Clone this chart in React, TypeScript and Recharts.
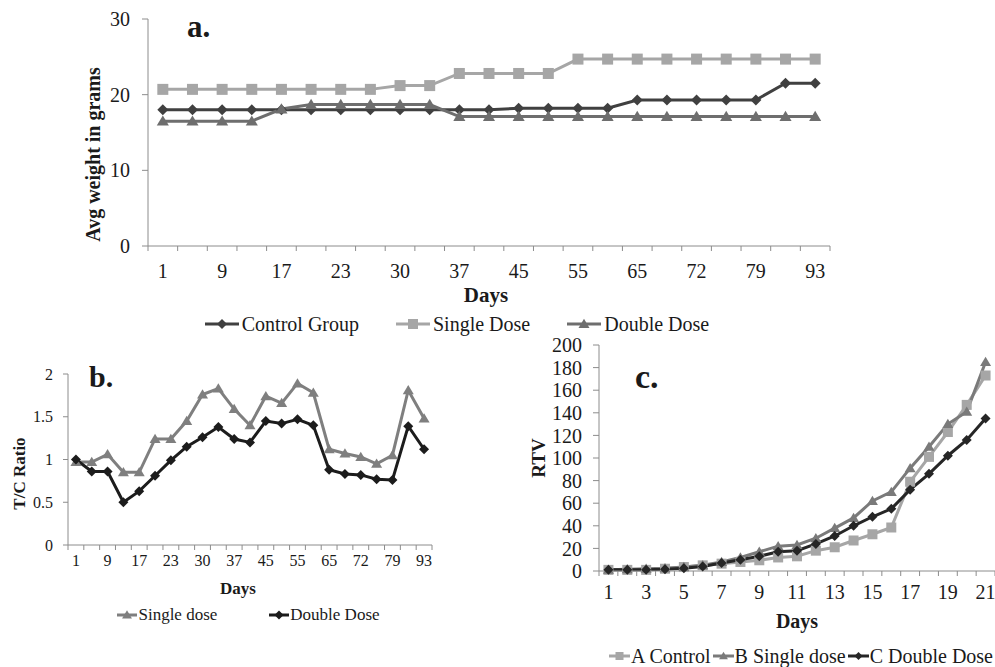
import React from "react";
import { LineChart, Line, XAxis, YAxis, Legend, Label } from "recharts";

const FONT = "'Liberation Serif', 'Times New Roman', serif";
const AXIS = "#8c8c8c";
const INK = "#1a1a1a";

// a. average body weight
const weightDays = ["1", "5", "9", "13", "17", "20", "23", "27", "30", "34", "37", "41", "45", "50", "55", "60", "65", "69", "72", "76", "79", "86", "93"];
const controlWeight = [18, 18, 18, 18, 18, 18, 18, 18, 18, 18, 18, 18, 18.2, 18.2, 18.2, 18.2, 19.3, 19.3, 19.3, 19.3, 19.3, 21.5, 21.5];
const singleWeight = [20.7, 20.7, 20.7, 20.7, 20.7, 20.7, 20.7, 20.7, 21.2, 21.2, 22.8, 22.8, 22.8, 22.8, 24.7, 24.7, 24.7, 24.7, 24.7, 24.7, 24.7, 24.7, 24.7];
const doubleWeight = [16.5, 16.5, 16.5, 16.5, 18.1, 18.7, 18.7, 18.7, 18.7, 18.7, 17.1, 17.1, 17.1, 17.1, 17.1, 17.1, 17.1, 17.1, 17.1, 17.1, 17.1, 17.1, 17.1];
const weightTicks = [0, 10, 20, 30];

// b. T/C ratio
const ratioDays = weightDays;
const singleRatio = [0.97, 0.97, 1.06, 0.85, 0.85, 1.24, 1.24, 1.45, 1.76, 1.83, 1.59, 1.4, 1.74, 1.66, 1.89, 1.78, 1.12, 1.07, 1.03, 0.95, 1.05, 1.81, 1.48];
const doubleRatio = [1.0, 0.86, 0.86, 0.5, 0.63, 0.81, 0.99, 1.15, 1.26, 1.38, 1.24, 1.2, 1.45, 1.42, 1.47, 1.4, 0.88, 0.83, 0.82, 0.77, 0.76, 1.39, 1.12];
const ratioTicks = [0, 0.5, 1, 1.5, 2];

// c. relative tumour volume
const rtvDays = ["1", "2", "3", "4", "5", "6", "7", "8", "9", "10", "11", "12", "13", "14", "15", "16", "17", "18", "19", "20", "21"];
const controlRtv = [1, 1, 1, 2, 3.5, 5, 6.5, 8, 9.5, 12, 13, 18, 21, 27, 32.5, 38.5, 79, 101, 123, 147, 173];
const singleRtv = [1, 1.5, 2, 2.5, 3.5, 5, 8, 12, 17, 22, 23, 29, 38, 47, 62, 70, 91, 110, 130, 141, 185];
const doubleRtv = [1, 1, 1, 1.5, 2.5, 4, 7, 10, 13, 17, 18, 24, 31, 40, 48, 55, 72, 86, 102, 116, 135];
const rtvTicks = [0, 20, 40, 60, 80, 100, 120, 140, 160, 180, 200];

type Shape = "diamond" | "square" | "triangle";
type Series = { key: string; name: string; color: string; shape: Shape; values: number[] };

const weightSeries: Series[] = [
  { key: "control", name: "Control Group", color: "#404040", shape: "diamond", values: controlWeight },
  { key: "single", name: "Single Dose", color: "#a6a6a6", shape: "square", values: singleWeight },
  { key: "double", name: "Double Dose", color: "#6e6e6e", shape: "triangle", values: doubleWeight },
];
const ratioSeries: Series[] = [
  { key: "single", name: "Single dose", color: "#7f7f7f", shape: "triangle", values: singleRatio },
  { key: "double", name: "Double Dose", color: "#1c1c1c", shape: "diamond", values: doubleRatio },
];
const rtvSeries: Series[] = [
  { key: "a", name: "A Control", color: "#a6a6a6", shape: "square", values: controlRtv },
  { key: "b", name: "B Single dose", color: "#7a7a7a", shape: "triangle", values: singleRtv },
  { key: "c", name: "C Double Dose", color: "#262626", shape: "diamond", values: doubleRtv },
];

function toRows(days: string[], series: Series[]) {
  return days.map((day, i) => {
    const row: Record<string, any> = { day };
    series.forEach((s) => (row[s.key] = s.values[i]));
    return row;
  });
}

function Marker({ shape, cx, cy, r, fill }: { shape: Shape; cx: number; cy: number; r: number; fill: string }) {
  if (shape === "square") return <rect x={cx - r} y={cy - r} width={2 * r} height={2 * r} fill={fill} />;
  if (shape === "triangle")
    return <polygon points={`${cx},${cy - r * 1.05} ${cx + r * 1.1},${cy + r * 0.8} ${cx - r * 1.1},${cy + r * 0.8}`} fill={fill} />;
  return <polygon points={`${cx},${cy - r} ${cx + r},${cy} ${cx},${cy + r} ${cx - r},${cy}`} fill={fill} />;
}

function dotFor(s: Series, r: number) {
  return (p: any) => <Marker key={`${s.key}-${p.index}`} shape={s.shape} cx={p.cx} cy={p.cy} r={r} fill={s.color} />;
}

// Excel-like category tick: tick marks between categories, label on every other one
function CategoryTick(props: any) {
  const { x, y, payload, index, step, every, last, fontSize, gap } = props;
  const axisY = y - gap;
  return (
    <g>
      <line x1={x - step / 2} x2={x - step / 2} y1={axisY} y2={axisY + 5} stroke={AXIS} />
      {index === last && <line x1={x + step / 2} x2={x + step / 2} y1={axisY} y2={axisY + 5} stroke={AXIS} />}
      {index % every === 0 && (
        <text x={x} y={y} dy="0.71em" textAnchor="middle" fontFamily={FONT} fontSize={fontSize} fill={INK}>
          {payload.value}
        </text>
      )}
    </g>
  );
}

function LegendRow({ items, fontSize, sample, gap, textGap, r, justify, pad }: any) {
  return (
    <div
      style={{
        display: "flex",
        justifyContent: justify,
        alignItems: "center",
        height: 22,
        paddingRight: pad || 0,
        fontFamily: FONT,
        fontSize,
        color: INK,
        whiteSpace: "nowrap",
      }}
    >
      {items.map((s: Series, i: number) => (
        <div key={s.key} style={{ display: "flex", alignItems: "center", marginLeft: i ? gap : 0 }}>
          <svg width={sample} height={16}>
            <line x1={0} x2={sample} y1={8} y2={8} stroke={s.color} strokeWidth={3} />
            <Marker shape={s.shape} cx={sample / 2} cy={8} r={r} fill={s.color} />
          </svg>
          <span style={{ marginLeft: textGap }}>{s.name}</span>
        </div>
      ))}
    </div>
  );
}

const yTickStyle = { fontFamily: FONT, fill: INK };
const boldLabel = { fontFamily: FONT, fontWeight: "bold", fill: INK, textAnchor: "middle" } as any;

export default function App() {
  const stepA = 682 / weightDays.length;
  const stepB = 364 / ratioDays.length;
  const stepC = 396 / rtvDays.length;

  return (
    <div style={{ position: "absolute", left: 0, top: 0, width: 995, height: 667, background: "#fff", overflow: "hidden" }}>
      {/* a. */}
      <div style={{ position: "absolute", left: 0, top: 0 }}>
        <LineChart width={995} height={340} data={toRows(weightDays, weightSeries)} margin={{ top: 19, right: 165, bottom: 5, left: 78 }}>
          <XAxis
            dataKey="day"
            height={67}
            interval={0}
            padding={{ left: stepA / 2, right: stepA / 2 }}
            axisLine={{ stroke: AXIS }}
            tickLine={false}
            tickSize={0}
            tickMargin={18}
            tick={<CategoryTick step={stepA} every={2} last={weightDays.length - 1} fontSize={20} gap={18} />}
          >
            <Label value="Days" position="insideBottom" offset={11} dx={-3} style={{ ...boldLabel, fontSize: 21 }} />
          </XAxis>
          <YAxis
            width={70}
            domain={[0, 30]}
            ticks={weightTicks}
            axisLine={{ stroke: AXIS }}
            tickLine={{ stroke: AXIS }}
            tickSize={6}
            tickMargin={12}
            tick={{ ...yTickStyle, fontSize: 20 }}
          >
            <Label value="Avg weight in grams" angle={-90} position="center" dx={-20} dy={22} style={{ ...boldLabel, fontSize: 20 }} />
          </YAxis>
          {weightSeries.map((s) => (
            <Line key={s.key} dataKey={s.key} name={s.name} stroke={s.color} strokeWidth={3} dot={dotFor(s, 5.5)} isAnimationActive={false} />
          ))}
          <Legend
            verticalAlign="bottom"
            wrapperStyle={{ left: 0, width: 914, bottom: 5 }}
            content={() => <LegendRow items={weightSeries} fontSize={20} sample={34} gap={37} textGap={3} r={5} justify="center" />}
          />
        </LineChart>
      </div>

      {/* b. */}
      <div style={{ position: "absolute", left: 0, top: 340 }}>
        <LineChart width={520} height={290} data={toRows(ratioDays, ratioSeries)} margin={{ top: 34, right: 88, bottom: 4, left: 28 }}>
          <XAxis
            dataKey="day"
            height={59}
            interval={0}
            padding={{ left: stepB / 2, right: stepB / 2 }}
            axisLine={{ stroke: AXIS }}
            tickLine={false}
            tickSize={0}
            tickMargin={10}
            tick={<CategoryTick step={stepB} every={2} last={ratioDays.length - 1} fontSize={16} gap={10} />}
          >
            <Label value="Days" position="insideBottom" offset={10} dx={-12} style={{ ...boldLabel, fontSize: 17 }} />
          </XAxis>
          <YAxis
            width={40}
            domain={[0, 2]}
            ticks={ratioTicks}
            axisLine={{ stroke: AXIS }}
            tickLine={{ stroke: AXIS }}
            tickSize={5}
            tickMargin={10}
            tick={{ ...yTickStyle, fontSize: 16 }}
          >
            <Label value="T/C Ratio" angle={-90} position="center" dx={-29} dy={14} style={{ ...boldLabel, fontSize: 17 }} />
          </YAxis>
          {ratioSeries.map((s) => (
            <Line key={s.key} dataKey={s.key} name={s.name} stroke={s.color} strokeWidth={3} dot={dotFor(s, 5)} isAnimationActive={false} />
          ))}
          <Legend
            verticalAlign="bottom"
            wrapperStyle={{ left: 0, width: 497, bottom: 4 }}
            content={() => <LegendRow items={ratioSeries} fontSize={17} sample={20} gap={52} textGap={1} r={4.5} justify="center" />}
          />
        </LineChart>
      </div>

      {/* c. */}
      <div style={{ position: "absolute", left: 520, top: 330 }}>
        <LineChart width={475} height={337} data={toRows(rtvDays, rtvSeries)} margin={{ top: 15, right: 0, bottom: 0, left: 29 }}>
          <XAxis
            dataKey="day"
            height={74}
            interval={0}
            padding={{ left: stepC / 2, right: stepC / 2 }}
            axisLine={{ stroke: AXIS }}
            tickLine={false}
            tickSize={0}
            tickMargin={14}
            tick={<CategoryTick step={stepC} every={2} last={rtvDays.length - 1} fontSize={20} gap={14} />}
          >
            <Label value="Days" position="insideBottom" offset={17} style={{ ...boldLabel, fontSize: 20 }} />
          </XAxis>
          <YAxis
            width={50}
            domain={[0, 200]}
            ticks={rtvTicks}
            interval={0}
            axisLine={{ stroke: AXIS }}
            tickLine={{ stroke: AXIS }}
            tickSize={6}
            tickMargin={11}
            tick={{ ...yTickStyle, fontSize: 20 }}
          >
            <Label value="RTV" angle={-90} position="center" dx={-36} style={{ ...boldLabel, fontSize: 19 }} />
          </YAxis>
          {rtvSeries.map((s) => (
            <Line key={s.key} dataKey={s.key} name={s.name} stroke={s.color} strokeWidth={3} dot={dotFor(s, 5)} isAnimationActive={false} />
          ))}
          <Legend
            verticalAlign="bottom"
            wrapperStyle={{ left: 0, width: 475, bottom: 0 }}
            content={() => <LegendRow items={rtvSeries} fontSize={20} sample={21} gap={2} textGap={1} r={4} justify="flex-end" pad={2} />}
          />
        </LineChart>
      </div>

      {/* panel letters */}
      <svg width={995} height={667} style={{ position: "absolute", left: 0, top: 0, pointerEvents: "none" }}>
        <text x={187} y={37} fontFamily={FONT} fontWeight="bold" fontSize={31} fill={INK}>a.</text>
        <text x={89} y={387} fontFamily={FONT} fontWeight="bold" fontSize={30} fill={INK}>b.</text>
        <text x={635} y={388} fontFamily={FONT} fontWeight="bold" fontSize={34} fill={INK}>c.</text>
      </svg>
    </div>
  );
}
